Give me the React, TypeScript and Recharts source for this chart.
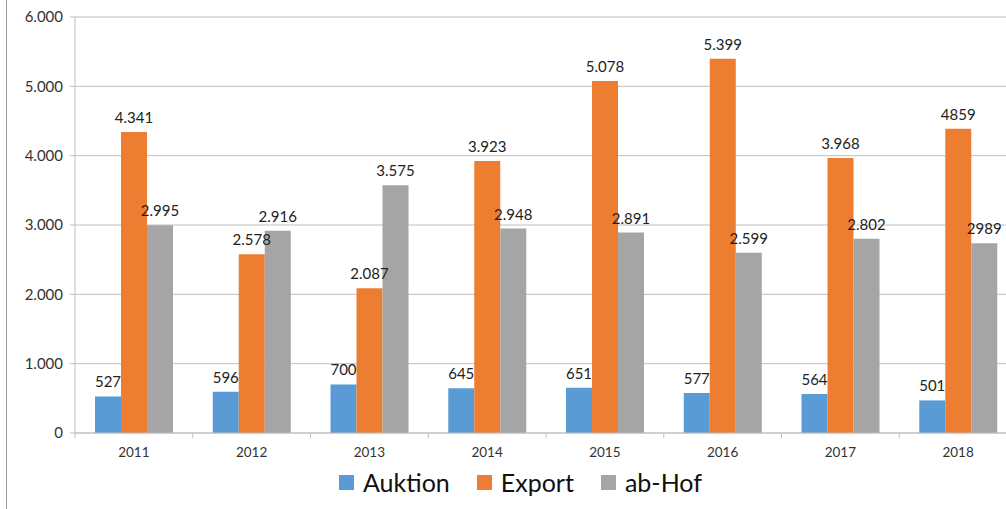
import { BarChart, Bar, XAxis, YAxis, CartesianGrid, LabelList } from "recharts";

const years = ["2011", "2012", "2013", "2014", "2015", "2016", "2017", "2018"];
const auktion = [527, 596, 700, 645, 651, 577, 564, 470];
const exportVals = [4341, 2578, 2087, 3923, 5078, 5399, 3968, 4390];
const abHof = [2995, 2916, 3575, 2948, 2891, 2599, 2802, 2735];
// labels as printed in the original (2018 labels differ from bar heights)
const auktionLabels = ["527", "596", "700", "645", "651", "577", "564", "501"];
const exportLabels = ["4.341", "2.578", "2.087", "3.923", "5.078", "5.399", "3.968", "4859"];
const abHofLabels = ["2.995", "2.916", "3.575", "2.948", "2.891", "2.599", "2.802", "2989"];
const yTicks = [0, 1000, 2000, 3000, 4000, 5000, 6000];

const series = [
    { key: "auktion", name: "Auktion", color: "#5B9BD5" },
    { key: "export", name: "Export", color: "#ED7D31" },
    { key: "abHof", name: "ab-Hof", color: "#A5A5A5" }
];

const data = years.map((year, i) => ({
    year,
    auktion: auktion[i],
    export: exportVals[i],
    abHof: abHof[i],
    auktionLabel: auktionLabels[i],
    exportLabel: exportLabels[i],
    abHofLabel: abHofLabels[i]
}));

const font = "Lato, 'Open Sans', sans-serif";
const gridColor = "#BFBFBF";

function formatDe(v: number) {
    return String(v).replace(/\B(?=(\d{3})+(?!\d))/g, ".");
}

function YearTick(props: any) {
    const { x, y, payload } = props;
    const half = payload.offset || 0;
    return (
        <g>
            <line x1={x - half} x2={x - half} y1={y} y2={y + 5} stroke={gridColor} />
            <text x={x} y={y + 24} textAnchor="middle" fontSize={13.5} fill="#333" fontFamily={font}>
                {payload.value}
            </text>
        </g>
    );
}

export default function App() {
    return (
        <div style={{ position: "absolute", left: 0, top: 0, width: 1006, height: 509, overflow: "hidden", background: "#fff", fontFamily: font }}>
            <div style={{ position: "absolute", left: 6, top: 0, width: 1, height: 509, background: "#9a9a9a" }} />
            <BarChart
                width={1030}
                height={509}
                data={data}
                margin={{ top: 17, right: 13, left: 0, bottom: 46 }}
                barCategoryGap="17%"
                barGap={0}
            >
                <CartesianGrid vertical={false} stroke={gridColor} />
                <XAxis
                    dataKey="year"
                    height={30}
                    stroke={gridColor}
                    tickLine={false}
                    tickSize={0}
                    tickMargin={0}
                    tick={<YearTick />}
                    interval={0}
                />
                <YAxis
                    width={75}
                    domain={[0, 6000]}
                    ticks={yTicks}
                    stroke={gridColor}
                    tickSize={5}
                    tickMargin={7}
                    tickFormatter={formatDe}
                    tick={{ fill: "#333", fontSize: 15, fontFamily: font }}
                />
                {series.map((s) => (
                    <Bar key={s.key} dataKey={s.key} name={s.name} fill={s.color} isAnimationActive={false}>
                        <LabelList
                            dataKey={s.key + "Label"}
                            position="top"
                            offset={9}
                            fill="#222"
                            fontSize={15}
                            fontFamily={font}
                        />
                    </Bar>
                ))}
            </BarChart>
            <div style={{ position: "absolute", left: 339, top: 467, display: "flex", alignItems: "center", height: 30 }}>
                {series.map((s) => (
                    <div key={s.key} style={{ display: "flex", alignItems: "center", marginRight: 27 }}>
                        <span style={{ width: 15, height: 15, background: s.color, marginRight: 9, display: "inline-block" }} />
                        <span style={{ fontSize: 25, color: "#111", lineHeight: "30px" }}>{s.name}</span>
                    </div>
                ))}
            </div>
        </div>
    );
}
